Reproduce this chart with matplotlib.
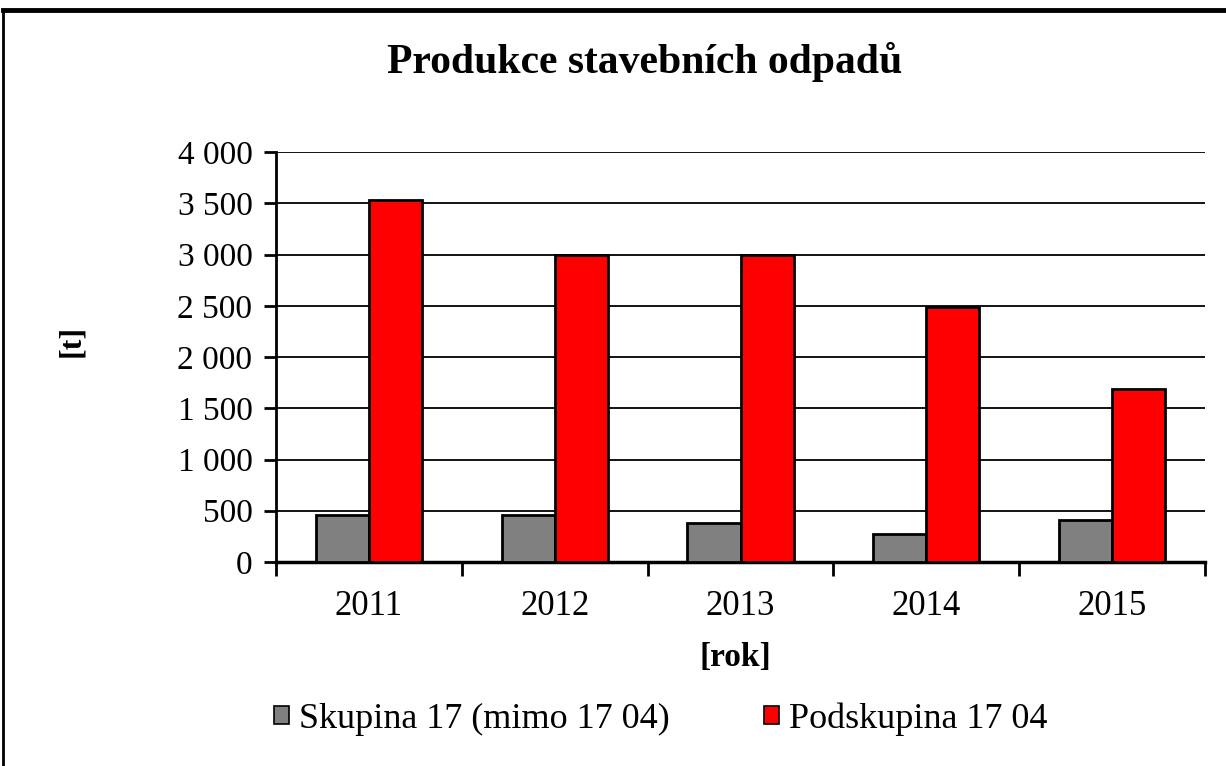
import matplotlib
matplotlib.use("Agg")
import matplotlib.pyplot as plt
import numpy as np
from matplotlib.lines import Line2D
from matplotlib.patches import Patch

years = ["2011", "2012", "2013", "2014", "2015"]
skupina = [455, 455, 378, 272, 412]
podskupina = [3530, 3000, 3000, 2485, 1690]
series_names = ["Skupina 17 (mimo 17 04)", "Podskupina 17 04"]
yticks = [0, 500, 1000, 1500, 2000, 2500, 3000, 3500, 4000]

plt.rcParams['font.family'] = ['Liberation Serif', 'DejaVu Serif']

W, H = 1226, 766
fig = plt.figure(figsize=(W/100, H/100), dpi=100)
ax = fig.add_axes([276/W, 1-562/H, (1205-276)/W, (562-152)/H])

x = np.arange(len(years))
bw = 0.286
ax.bar(x - bw/2, skupina, bw, color="#808080", edgecolor="black", linewidth=2, zorder=3)
ax.bar(x + bw/2, podskupina, bw, color="#ff0000", edgecolor="black", linewidth=2, zorder=3)

ax.set_xlim(-0.5, len(years) - 0.5)
ax.set_ylim(0, 4000)
ax.set_yticks(yticks)
ax.set_yticklabels([f"{v:,}".replace(",", " ") for v in yticks], fontsize=24)
ax.set_xticks(x)
ax.set_xticklabels(years, fontsize=25)
ax.set_xticks(np.arange(-0.5, len(years)), minor=True)
ax.tick_params(axis='x', which='major', length=0, pad=20)
ax.tick_params(axis='x', which='minor', length=10, width=2, direction='out')
ax.tick_params(axis='y', length=9, width=2, direction='out', pad=8)

for v in yticks[1:]:
    ax.axhline(v, color="black", linewidth=1.3, zorder=1)

for s in ['top', 'right']:
    ax.spines[s].set_visible(False)
ax.spines['left'].set_linewidth(2)
ax.spines['bottom'].set_linewidth(2.5)

fig.text(645/W, 1-62/H, "Produkce stavebních odpadů", fontsize=30, fontweight='bold',
         ha='center', va='center')
fig.text(72/W, 1-341/H, "[t]", fontsize=23, fontweight='bold', rotation=90,
         ha='center', va='center')
fig.text(735/W, 1-657/H, "[rok]", fontsize=24, fontweight='bold', ha='center', va='center')

handles = [Patch(facecolor="#808080", edgecolor="black", linewidth=1.2),
           Patch(facecolor="#ff0000", edgecolor="black", linewidth=1.2)]
fig.legend(handles, series_names, loc='center', bbox_to_anchor=(661/W, 1-719/H),
           ncol=2, frameon=False, fontsize=26, handlelength=0.42, handleheight=0.42,
           handletextpad=0.28, columnspacing=2.6)

# figure border
fig.add_artist(Line2D([3/W, 1], [1-10/H, 1-10/H], color='black', linewidth=3.5, transform=fig.transFigure))
fig.add_artist(Line2D([3/W, 3/W], [0, 1-10/H], color='black', linewidth=2, transform=fig.transFigure))

fig.savefig("out.png", dpi=100)
